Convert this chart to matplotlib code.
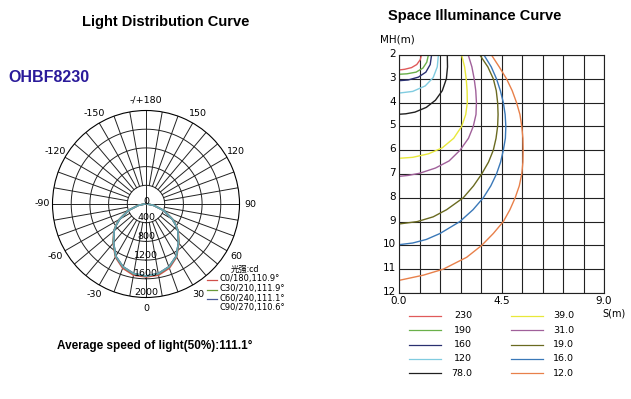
import numpy as np
import matplotlib.pyplot as plt
import matplotlib.transforms as mtransforms
from matplotlib.lines import Line2D

W, H = 631, 399

# light distribution (cd) per C-plane, gamma angles in degrees
gamma = [0, 10, 20, 30, 40, 50, 55, 60, 70, 80, 90]
c0_180 = [1560, 1545, 1460, 1310, 1095, 900, 780, 660, 410, 170, 30]
c30_210 = [1545, 1520, 1435, 1295, 1085, 895, 775, 655, 405, 168, 30]
c60_240 = [1540, 1510, 1430, 1290, 1080, 890, 770, 650, 400, 165, 28]
c90_270 = [1540, 1512, 1432, 1292, 1082, 892, 772, 652, 402, 166, 28]
plane_labels = ['C0/180,110.9°', 'C30/210,111.9°', 'C60/240,111.1°', 'C90/270,110.6°']
plane_colors = ['#d0504a', '#6a9a3a', '#4a5a9a', '#6aa8b0']

ring_values = [0, 400, 800, 1200, 1600, 2000]
angle_ticks = [0, 30, 60, 90, 120, 150, 180, -150, -120, -90, -60, -30]
angle_texts = ['0', '30', '60', '90', '120', '150', '-/+180', '-150', '-120', '-90', '-60', '-30']

# space illuminance isolines (lux): (S, MH) points
lux_levels = ['230', '190', '160', '120', '78.0', '39.0', '31.0', '19.0', '16.0', '12.0']
lux_colors = ['#e05a5a', '#6ab04a', '#2a3070', '#80cce0', '#202020',
              '#e8e83a', '#a0609a', '#6a6a20', '#3a78b8', '#e8804a']
iso_s = [
    [0.99, 0.93, 0.78, 0.55, 0.25, 0.0],
    [1.29, 1.22, 1.05, 0.75, 0.35, 0.0],
    [1.43, 1.37, 1.18, 0.85, 0.4, 0.0],
    [1.73, 1.68, 1.5, 1.15, 0.6, 0.0],
    [2.12, 2.13, 2.08, 1.9, 1.6, 1.2, 0.7, 0.3, 0.0],
    [2.75, 2.88, 2.95, 2.99, 3.0, 2.93, 2.75, 2.4, 1.9, 1.3, 0.6, 0.0],
    [3.04, 3.2, 3.3, 3.37, 3.4, 3.38, 3.26, 3.05, 2.68, 2.2, 1.6, 0.9, 0.4, 0.0],
    [3.55, 3.9, 4.14, 4.27, 4.33, 4.35, 4.33, 4.26, 4.14, 3.93, 3.63, 3.27, 2.82,
     2.09, 1.5, 0.8, 0.0],
    [3.73, 4.05, 4.28, 4.45, 4.58, 4.66, 4.69, 4.67, 4.58, 4.46, 4.28, 4.03, 3.7,
     3.25, 2.67, 1.8, 1.2, 0.6, 0.0],
    [4.06, 4.4, 4.72, 4.97, 5.16, 5.31, 5.39, 5.44, 5.45, 5.44, 5.39, 5.28, 5.1,
     4.87, 4.58, 4.14, 3.63, 2.97, 1.94, 1.07, 0.34, 0.0],
]
iso_mh = [
    [2.0, 2.2, 2.4, 2.53, 2.6, 2.63],
    [2.0, 2.3, 2.55, 2.72, 2.79, 2.81],
    [2.0, 2.4, 2.72, 2.93, 3.05, 3.08],
    [2.0, 2.5, 2.95, 3.3, 3.53, 3.6],
    [2.0, 2.5, 3.0, 3.5, 3.9, 4.2, 4.4, 4.47, 4.49],
    [2.0, 2.5, 3.0, 3.5, 4.0, 4.5, 5.0, 5.5, 5.9, 6.15, 6.3, 6.34],
    [2.0, 2.5, 3.0, 3.5, 4.0, 4.5, 5.0, 5.5, 6.0, 6.45, 6.75, 6.97, 7.06, 7.1],
    [2.0, 2.5, 3.0, 3.5, 4.0, 4.5, 5.0, 5.5, 6.0, 6.5, 7.0, 7.5, 8.0,
     8.5, 8.8, 9.0, 9.1],
    [2.0, 2.5, 3.0, 3.5, 4.0, 4.5, 5.0, 5.5, 6.0, 6.5, 7.0, 7.5, 8.0,
     8.5, 9.0, 9.5, 9.75, 9.9, 9.97],
    [2.0, 2.5, 3.0, 3.5, 4.0, 4.5, 5.0, 5.5, 6.0, 6.5, 7.0, 7.5, 8.0,
     8.5, 9.0, 9.5, 10.0, 10.5, 11.0, 11.25, 11.4, 11.47],
]


def px(x, y):
    return x / W, 1 - y / H


fig = plt.figure(figsize=(W / 100, H / 100), dpi=100)
bold = dict(family='Liberation Sans', weight='bold')

fig.text(*px(166, 22), 'Light Distribution Curve', ha='center', va='center', fontsize=10.5, **bold)
fig.text(*px(8, 78), 'OHBF8230', ha='left', va='center', fontsize=11.5, color='#2a1a9a', **bold)
fig.text(*px(155, 346), 'Average speed of light(50%):111.1°', ha='center', va='center', fontsize=8.5, **bold)
fig.text(*px(475, 16), 'Space Illuminance Curve', ha='center', va='center', fontsize=10.5, **bold)

# ---- polar chart
R = 93.5
ax = fig.add_axes([(146 - R) / W, 1 - (204 + R) / H, 2 * R / W, 2 * R / H], projection='polar')
ax.set_theta_zero_location('S')
ax.set_theta_direction(1)
ax.set_ylim(0, 2000)
ax.grid(False)
ax.set_xticks([])
ax.set_yticks([])
ax.spines['polar'].set_linewidth(0.8)

th = np.linspace(0, 2 * np.pi, 361)
for r in ring_values[1:-1]:
    ax.plot(th, np.full_like(th, r), color='#222222', lw=0.7)
for a in range(0, 360, 10):
    r0 = 0 if a % 90 == 0 else 400
    ax.plot([np.radians(a)] * 2, [r0, 2000], color='#222222', lw=0.7)

g = np.radians(gamma)
for vals, col in zip([c0_180, c30_210, c60_240, c90_270], plane_colors):
    theta = np.concatenate([-g[::-1], g[1:]])
    rr = np.concatenate([vals[::-1], vals[1:]])
    ax.plot(theta, rr, color=col, lw=1.2)

for r in ring_values:
    ax.text(0, r + (40 if r == 0 else -10), str(r), ha='center', va='bottom', fontsize=6.8,
            family='DejaVu Sans')
for a, t in zip(angle_ticks, angle_texts):
    ax.text(np.radians(a), 2230, t, ha='center', va='center', fontsize=6.8, family='DejaVu Sans')

# polar legend
fig.text(*px(231, 269), '光强:cd', ha='left', va='center', fontsize=6,
         family=['Noto Sans CJK SC', 'DejaVu Sans'])
for i, (lab, col) in enumerate(zip(plane_labels, plane_colors)):
    y = 279 + 9.6 * i
    if i < 3:
        fig.add_artist(Line2D([207 / W, 217 / W], [1 - (y + 1) / H] * 2, color=col, lw=0.9))
    fig.text(*px(219, y), lab, ha='left', va='center', fontsize=6, family='DejaVu Sans')

# ---- space illuminance chart
ax2 = fig.add_axes([399 / W, 1 - 293 / H, 205 / W, 238 / H])
ax2.set_xlim(0, 9)
ax2.set_ylim(12, 2)
ax2.set_xticks(np.arange(0, 9.01, 0.9))
ax2.set_yticks(range(2, 13))
ax2.grid(True, color='#222222', lw=0.8)
ax2.tick_params(length=0, labelsize=7.5, pad=2)
ax2.set_xticklabels(['0.0', '', '', '', '', '4.5', '', '', '', '', '9.0'])
shift = mtransforms.ScaledTranslation(0, 2 / 100, fig.dpi_scale_trans)
for lab in ax2.get_yticklabels():
    lab.set_transform(lab.get_transform() + shift)
for s in ax2.spines.values():
    s.set_color('#222222')
    s.set_linewidth(0.8)
for xs, ys, col in zip(iso_s, iso_mh, lux_colors):
    ax2.plot(xs, ys, color=col, lw=1.0)
fig.text(*px(397, 40), 'MH(m)', ha='center', va='center', fontsize=7.5, family='DejaVu Sans')
fig.text(*px(614, 314), 'S(m)', ha='center', va='center', fontsize=7, family='DejaVu Sans')

# right legend
for i, (lab, col) in enumerate(zip(lux_levels, lux_colors)):
    row, colm = i % 5, i // 5
    y = 316 + 14.3 * row
    x0 = 409 if colm == 0 else 511
    fig.add_artist(Line2D([x0 / W, (x0 + 32) / W], [1 - y / H] * 2, color=col, lw=0.9))
    if colm == 0:
        fig.text(*px(472, y), lab, ha='right', va='center', fontsize=6.8, family='DejaVu Sans')
    else:
        fig.text(*px(553, y), lab, ha='left', va='center', fontsize=6.8, family='DejaVu Sans')

fig.savefig('out.png', dpi=100)
